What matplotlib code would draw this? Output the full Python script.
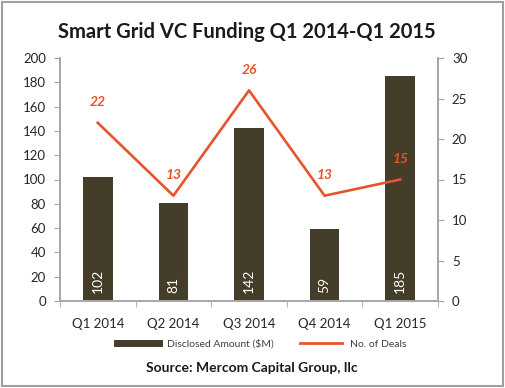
import numpy as np
import matplotlib
matplotlib.use("Agg")
import matplotlib.pyplot as plt
from matplotlib.lines import Line2D
from matplotlib.patches import Rectangle

quarters = ["Q1 2014", "Q2 2014", "Q3 2014", "Q4 2014", "Q1 2015"]
amount = [102, 81, 142, 59, 185]
deals = [22, 13, 26, 13, 15]

bar_col = "#433d29"
line_col = "#e8532b"
axis_col = "#a6a6a6"
txt_col = "#262626"

plt.rcParams['font.family'] = ['Lato', 'DejaVu Sans']

fig = plt.figure(figsize=(5.05, 3.88), dpi=100)
ax = fig.add_axes([60 / 505, 1 - 301 / 388, 378 / 505, 243 / 388])
ax2 = ax.twinx()

x = np.arange(len(quarters))
ax.bar(x, amount, width=0.39, color=bar_col, zorder=2)
for xi, v in zip(x, amount):
    ax.annotate(str(v), xy=(xi, 0), xytext=(0, 6), textcoords="offset points",
                rotation=90, ha="center", va="bottom", color="white", fontsize=10)

ax2.plot(x, deals, color=line_col, lw=1.9, zorder=3)
for xi, v in zip(x, deals):
    ax2.annotate(str(v), xy=(xi, v), xytext=(0, 15), textcoords="offset points",
                 ha="center", va="center", color=line_col, fontsize=10,
                 fontweight="bold", fontstyle="italic")

ax.set_xlim(-0.5, 4.5)
ax.set_ylim(0, 200)
ax2.set_ylim(0, 30)
ax.set_yticks(np.arange(0, 201, 20))
ax2.set_yticks(np.arange(0, 31, 5))
ax.set_xticks(x)
ax.set_xticklabels(quarters)
ax.set_xticks(np.arange(-0.5, 5, 1), minor=True)
ax.tick_params(axis="x", which="major", length=0, pad=12, labelsize=9.5, labelcolor=txt_col)
ax.tick_params(axis="x", which="minor", length=4, color=axis_col, direction="out")
ax.tick_params(axis="y", length=4, color=axis_col, labelsize=9.5, labelcolor=txt_col, pad=6)
ax2.tick_params(axis="y", length=4, color=axis_col, labelsize=9.5, labelcolor=txt_col, pad=6)

for a in (ax, ax2):
    a.spines["top"].set_visible(False)
    for s in ("left", "right", "bottom"):
        a.spines[s].set_color(axis_col)
        a.spines[s].set_linewidth(1.2)

fig.text(247 / 505, 1 - 32 / 388, "Smart Grid VC Funding Q1 2014-Q1 2015",
         ha="center", va="center", fontsize=14.5, fontweight="bold", color="#1a1a1a")

handles = [Line2D([0], [0], color=bar_col, lw=5),
           Line2D([0], [0], color=line_col, lw=2)]
fig.legend(handles, ["Disclosed Amount ($M)", "No. of Deals"], loc="center",
           bbox_to_anchor=(262 / 505, 1 - 344 / 388), ncol=2, frameon=False,
           fontsize=7.5, handlelength=4, columnspacing=2.5, labelcolor="#404040")

fig.text(252 / 505, 1 - 368 / 388, "Source: Mercom Capital Group, llc",
         ha="center", va="center", fontsize=10, fontweight="bold", color="#1a1a1a")

fig.patches.append(Rectangle((0.004, 0.004), 0.992, 0.992, transform=fig.transFigure,
                             fill=False, edgecolor="#a0a0a0", lw=1.5))

fig.savefig("out.png", dpi=100)
